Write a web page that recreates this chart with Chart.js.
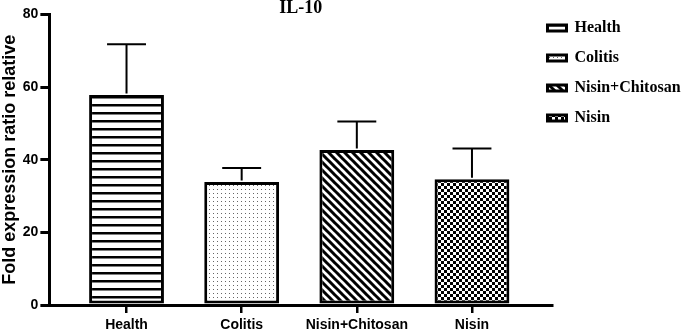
<!DOCTYPE html>
<html>
<head>
<meta charset="utf-8">
<script src="https://cdn.jsdelivr.net/npm/chart.js@4.4.1/dist/chart.umd.min.js"></script>
<style>
  html, body { margin: 0; padding: 0; background: #ffffff; }
  #wrap { width: 685px; height: 330px; }
</style>
</head>
<body>
<div id="wrap"><canvas id="c" width="685" height="330"></canvas></div>
<script>
// ---- data ----
const chartTitle = 'IL-10';
const yAxisTitle = 'Fold expression ratio relative';
const categories = ['Health', 'Colitis', 'Nisin+Chitosan', 'Nisin'];
const means = [57.8, 33.9, 42.7, 34.6];
const sdUpper = [14.0, 3.8, 7.8, 8.5];
const yTickValues = [0, 20, 40, 60, 80];

const SANS = "'Liberation Sans', Arial, Helvetica, sans-serif";
const SERIF = "'Liberation Serif', 'Times New Roman', Times, serif";

// ---- fill patterns ----
function makePattern(size, draw) {
  const c = document.createElement('canvas');
  c.width = size; c.height = size;
  const g = c.getContext('2d');
  g.fillStyle = '#ffffff';
  g.fillRect(0, 0, size, size);
  draw(g, size);
  return document.getElementById('c').getContext('2d').createPattern(c, 'repeat');
}
const patterns = [
  // horizontal stripes
  makePattern(8, (g, s) => { g.fillStyle = '#000'; g.fillRect(0, 0, s, 2.5); }),
  // sparse dots
  makePattern(4, (g, s) => { g.fillStyle = '#666'; g.fillRect(1, 1, 1, 1); }),
  // diagonal "\" stripes
  makePattern(8, (g, s) => {
    g.strokeStyle = '#000'; g.lineWidth = 3;
    g.beginPath();
    for (const o of [-s, 0, s]) { g.moveTo(o - 1, -1); g.lineTo(o + s + 1, s + 1); }
    g.stroke();
  }),
  // checkerboard
  makePattern(6, (g, s) => { g.fillStyle = '#000'; g.fillRect(0, 0, 3, 3); g.fillRect(3, 3, 3, 3); })
];

const datasets = categories.map((name, i) => ({
  label: name,
  data: [{ x: i, y: means[i] }],
  backgroundColor: patterns[i],
  borderColor: '#000000',
  borderWidth: 3,
  borderSkipped: false,
  grouped: false,
  categoryPercentage: 1.0,
  barPercentage: 0.65
}));

// ---- error bars (upper whisker only) ----
const errorBars = {
  id: 'errorBars',
  afterDatasetsDraw(chart) {
    const ctx = chart.ctx;
    const y = chart.scales.y;
    ctx.save();
    ctx.strokeStyle = '#000';
    ctx.lineWidth = 2;
    chart.data.datasets.forEach((ds, i) => {
      const bar = chart.getDatasetMeta(i).data[0];
      if (!bar) return;
      const top = y.getPixelForValue(means[i] + sdUpper[i]);
      const half = bar.width * 0.26;
      ctx.beginPath();
      ctx.moveTo(bar.x, bar.y - 1.5);
      ctx.lineTo(bar.x, top);
      ctx.moveTo(bar.x - half, top);
      ctx.lineTo(bar.x + half, top);
      ctx.stroke();
    });
    ctx.restore();
  }
};

// ---- move legend next to the plot (it overlaps the layout column) ----
const legendPlacer = {
  id: 'legendPlacer',
  afterLayout(chart) {
    const lg = chart.legend;
    if (!lg) return;
    lg.left = 533.5; lg.right = 685; lg.width = lg.right - lg.left;
    lg.top = 6; lg.bottom = 330; lg.height = lg.bottom - lg.top;
  }
};

new Chart(document.getElementById('c'), {
  type: 'bar',
  data: { datasets },
  plugins: [errorBars, legendPlacer],
  options: {
    responsive: false,
    animation: false,
    layout: { padding: { top: 1.5, right: 0, bottom: 0, left: 0 } },
    plugins: {
      title: {
        display: true,
        text: chartTitle,
        fullSize: false,
        color: '#000',
        padding: 0,
        font: { family: SERIF, size: 18, weight: 'bold', lineHeight: '13px' }
      },
      legend: {
        display: true,
        position: 'right',
        align: 'start',
        maxWidth: 133,
        labels: {
          color: '#000',
          boxWidth: 19,
          boxHeight: 6,
          padding: 14,
          font: { family: SERIF, size: 16, weight: 'bold' }
        }
      },
      tooltip: { enabled: false }
    },
    scales: {
      x: {
        type: 'linear',
        offset: false,
        min: -0.67,
        max: 3.695,
        afterBuildTicks(scale) { scale.ticks = categories.map((c, i) => ({ value: i })); },
        afterFit(scale) { scale.height = 25; },
        ticks: {
          autoSkip: false,
          maxRotation: 0,
          minRotation: 0,
          padding: 5,
          color: '#000',
          font: { family: SANS, size: 14, weight: 'bold', lineHeight: 1 },
          callback: (v) => categories[v]
        },
        grid: { offset: false, drawOnChartArea: false, drawTicks: true, tickLength: 8, color: '#000', lineWidth: 2.5 },
        border: { display: true, color: '#000', width: 3 }
      },
      y: {
        min: 0,
        max: 80,
        afterBuildTicks(scale) { scale.ticks = yTickValues.map(v => ({ value: v })); },
        ticks: {
          padding: 2,
          color: '#000',
          font: { family: SANS, size: 14, weight: 'bold' }
        },
        grid: { drawOnChartArea: false, drawTicks: true, tickLength: 9, color: '#000', lineWidth: 3 },
        border: { display: true, color: '#000', width: 3 },
        title: {
          display: true,
          text: yAxisTitle,
          color: '#000',
          padding: { top: 0, bottom: 1 },
          font: { family: SANS, size: 18, weight: 'bold', lineHeight: 1.1 }
        }
      }
    }
  }
});
</script>
</body>
</html>
